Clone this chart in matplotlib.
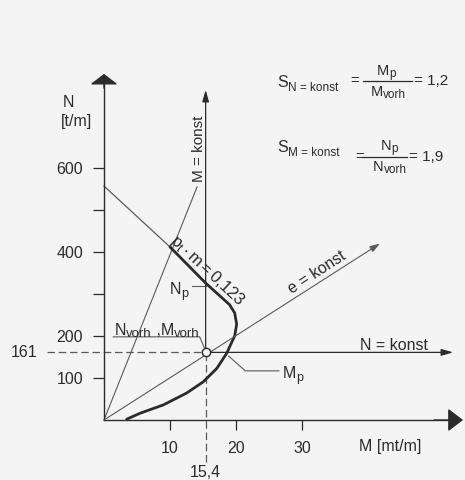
import matplotlib
matplotlib.use("Agg")
import matplotlib.pyplot as plt
from matplotlib.lines import Line2D

plt.rcParams['font.family'] = ['Liberation Sans', 'DejaVu Sans']
plt.rcParams['mathtext.fontset'] = 'custom'
plt.rcParams['mathtext.rm'] = 'Liberation Sans'
plt.rcParams['mathtext.it'] = 'Liberation Sans'
plt.rcParams['mathtext.bf'] = 'Liberation Sans'

# ---- data ----
# interaction curve (thick): M [mt/m], N [t/m]
curve_M = [10.0, 15.4, 19.0, 19.8, 20.1, 19.8, 19.2, 18.6, 17.1, 15.05, 12.5, 9.0, 5.45, 3.45]
curve_N = [412, 326, 275, 255, 228, 200, 180, 159, 123, 91, 64, 36, 16, 2]
# thin continuation of the straight branch to the N axis
branch_M = [0.0, 10.0]
branch_N = [557, 412]
# steep thin line from origin
steep_M = [0.0, 14.1]
steep_N = [0, 555]
# e = konst line from origin
e_M = [0.0, 41.8]
e_N = [0, 420]
# existing state
M_vorh = 15.4
N_vorh = 161
# ticks
y_ticks = [100, 200, 300, 400, 500, 600]
y_ticklabels = ['100', '200', '', '400', '', '600']
x_ticks = [10, 20, 30]
x_ticklabels = ['10', '20', '30']

BG = '#f4f4f4'
INK = '#2b2b2b'
THIN = '#5a5a5a'

W, H = 465, 480
fig = plt.figure(figsize=(W / 100, H / 100), dpi=100, facecolor=BG)
ax = fig.add_axes([0, 0, 1, 1], facecolor=BG)
x0px, y0px, sx, sy = 104, 420, 6.6, 0.42
ax.set_xlim(-x0px / sx, (W - x0px) / sx)
ax.set_ylim((y0px - H) / sy, y0px / sy)

# axes as spines
for s in ['top', 'right']:
    ax.spines[s].set_visible(False)
ax.spines['left'].set_position(('data', 0))
ax.spines['bottom'].set_position(('data', 0))
ax.spines['left'].set_bounds(0, 810)
ax.spines['bottom'].set_bounds(0, 53)
for s in ['left', 'bottom']:
    ax.spines[s].set_color(INK)
    ax.spines[s].set_linewidth(1.0)
ax.set_yticks(y_ticks)
ax.set_yticklabels(y_ticklabels)
ax.set_xticks(x_ticks)
ax.set_xticklabels(x_ticklabels)
ax.tick_params(axis='y', direction='out', length=8, width=0.9, color=INK,
               labelsize=11.5, labelcolor=INK, pad=7)
ax.tick_params(axis='x', direction='out', length=7, width=0.9, color=INK,
               labelsize=11.5, labelcolor=INK, pad=8)

# big axis arrow heads
ax.annotate('', xy=(0, 824), xytext=(0, 790),
            arrowprops=dict(arrowstyle='-|>,head_length=6.5,head_width=8.6', mutation_scale=1,
                            color=INK, lw=1.0, shrinkA=0, shrinkB=0))
ax.annotate('', xy=(54.4, 0), xytext=(50, 0),
            arrowprops=dict(arrowstyle='-|>,head_length=9.4,head_width=7.2', mutation_scale=1,
                            color=INK, lw=1.0, shrinkA=0, shrinkB=0))

# thin lines
ax.plot(branch_M, branch_N, color=THIN, lw=0.9)
ax.plot(steep_M, steep_N, color=THIN, lw=0.8)
ax.annotate('', xy=(e_M[1], e_N[1]), xytext=(e_M[0], e_N[0]),
            arrowprops=dict(arrowstyle='-|>,head_length=6,head_width=2', mutation_scale=1,
                            color=THIN, lw=0.8, shrinkA=0, shrinkB=0))

# N = konst line
ax.plot([-8.6, M_vorh], [N_vorh, N_vorh], color=THIN, lw=0.9, ls=(0, (6, 3)))
ax.annotate('', xy=(52.9, N_vorh), xytext=(M_vorh, N_vorh),
            arrowprops=dict(arrowstyle='-|>,head_length=7,head_width=2', mutation_scale=1,
                            color=INK, lw=0.9, shrinkA=0, shrinkB=0))
# M = konst line
ax.plot([M_vorh, M_vorh], [-100, N_vorh], color=THIN, lw=0.9, ls=(0, (6, 3)))
ax.annotate('', xy=(M_vorh, 786), xytext=(M_vorh, N_vorh),
            arrowprops=dict(arrowstyle='-|>,head_length=7,head_width=2', mutation_scale=1,
                            color=INK, lw=0.9, shrinkA=0, shrinkB=0))

# thick interaction curve
ax.plot(curve_M, curve_N, color=INK, lw=2.0, solid_joinstyle='round', solid_capstyle='round')

# existing state point
ax.plot([M_vorh], [N_vorh], marker='o', ms=6, mfc=BG, mec=INK, mew=1.0, zorder=5)

# simple labels
tk = dict(color=INK)
ax.text(-5.45, 755, 'N', fontsize=11.5, ha='center', va='center', **tk)
ax.text(-4.1, 710, '[t/m]', fontsize=11.5, ha='center', va='center', **tk)
ax.text(-10.1, N_vorh, '161', fontsize=11.5, ha='right', va='center', **tk)
ax.text(M_vorh, -126, '15,4', fontsize=11.5, ha='center', va='center', **tk)
ax.text(43.3, -64, 'M [mt/m]', fontsize=11.5, ha='center', va='center', **tk)
ax.text(44, 178, 'N = konst', fontsize=11.5, ha='center', va='center', **tk)
ax.text(14.4, 645, 'M = konst', fontsize=11, ha='center', va='center', rotation=90, **tk)
ax.text(32.2, 352, 'e = konst', fontsize=11.5, ha='center', va='center', rotation=33,
        rotation_mode='anchor', **tk)
ax.text(15.6, 356, r'$\mathregular{p_t \cdot m = 0{,}123}$', fontsize=12, ha='center', va='center',
        rotation=-43, rotation_mode='anchor', **tk)

# leader lines
ax.plot([13.3, M_vorh], [320, 320], color=THIN, lw=0.8)
ax.plot([1.4, 14.5, 15.2], [198, 198, 172], color=THIN, lw=0.8)
ax.plot([18.9, 21.4, 26.5], [152, 117, 117], color=THIN, lw=0.8)

# ---- text with large subscripts, composed piece by piece (display pixels) ----
renderer = fig.canvas.get_renderer()


def compose(x, y, parts, ha='left'):
    """x, y: display pixels of baseline start; parts: (text, size, dy_px)."""
    arts = []
    for s, size, dy in parts:
        t = fig.text(0, 0, s, fontsize=size, va='baseline', ha='left', color=INK)
        arts.append((t, dy))
    widths = [t.get_window_extent(renderer).width for t, _ in arts]
    total = sum(widths)
    if ha == 'center':
        x = x - total / 2
    cx = x
    for (t, dy), w in zip(arts, widths):
        t.set_position((cx / W, (y + dy) / H))
        cx += w
    return arts


def data_px(M, N):
    return ax.transData.transform((M, N))


# Np label
px, py = data_px(10.0, 313)
compose(px, py - 5, [('N', 11.5, 0), ('p', 9, -3)])
# Nvorh, Mvorh
px, py = data_px(1.6, 214)
compose(px, py - 5, [('N', 11.5, 0), ('vorh', 9.5, -2), (' ,', 11.5, 0),
                     ('M', 11.5, 0), ('vorh', 9.5, -2)])
# Mp
px, py = data_px(27.1, 112)
compose(px, py - 5, [('M', 11.5, 0), ('p', 9, -3)])


# formulas (pixel coordinates measured from the top)
def bar(x1, x2, y):
    fig.add_artist(Line2D([x1 / W, x2 / W], [1 - y / H, 1 - y / H], color=INK, lw=0.9))


compose(277, H - 87, [('S', 11.5, 0), ('N = konst', 8.5, -4)])
compose(355, H - 85, [('=', 10.5, 0)], ha='center')
compose(386, H - 75, [('M', 10.5, 0), ('p', 8.5, -2)], ha='center')
bar(363, 412, 81)
compose(388, H - 96, [('M', 10.5, 0), ('vorh', 8.5, -2)], ha='center')
compose(414, H - 85, [('= 1,2', 11, 0)])

compose(277, H - 152, [('S', 11.5, 0), ('M = konst', 8.5, -4)])
compose(360, H - 161, [('=', 10.5, 0)], ha='center')
compose(389, H - 150, [('N', 10.5, 0), ('p', 8.5, -2)], ha='center')
bar(362, 407, 157)
compose(390, H - 171, [('N', 10.5, 0), ('vorh', 8.5, -2)], ha='center')
compose(409, H - 161, [('= 1,9', 11, 0)])

fig.savefig('out.png', dpi=100, facecolor=BG)
